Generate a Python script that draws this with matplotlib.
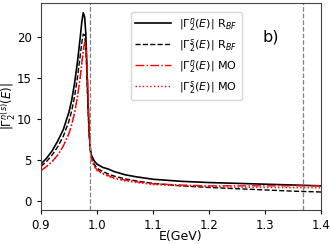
import numpy as np
import matplotlib.pyplot as plt

# energies (GeV)
E = [0.90, 0.91, 0.92, 0.93, 0.94, 0.95, 0.955, 0.96, 0.965, 0.97, 0.973, 0.9755,
     0.978, 0.98, 0.982, 0.984, 0.986, 0.988, 0.990, 0.995, 1.00, 1.01, 1.02, 1.03,
     1.05, 1.07, 1.10, 1.15, 1.20, 1.25, 1.30, 1.35, 1.40]

gn_rbf = [4.5, 5.2, 6.1, 7.3, 8.7, 10.8, 12.3, 14.3, 16.8, 19.8, 21.8, 22.9,
          22.4, 20.5, 16.5, 12.0, 8.5, 6.5, 5.6, 4.9, 4.5, 4.1, 3.9, 3.6,
          3.2, 2.95, 2.65, 2.4, 2.25, 2.15, 2.05, 1.95, 1.85]
gs_rbf = [4.2, 4.8, 5.6, 6.6, 7.9, 9.7, 11.0, 12.7, 14.9, 17.6, 19.3, 20.3,
          20.2, 18.8, 15.5, 11.5, 8.2, 6.2, 5.3, 4.5, 4.0, 3.6, 3.3, 3.05,
          2.7, 2.45, 2.15, 1.85, 1.65, 1.5, 1.35, 1.2, 1.1]
gn_mo = [3.7, 4.2, 4.8, 5.6, 6.7, 8.2, 9.3, 10.7, 12.6, 15.0, 16.8, 18.3,
         19.3, 19.2, 17.0, 13.0, 9.0, 6.3, 5.2, 4.3, 3.8, 3.4, 3.1, 2.85,
         2.55, 2.35, 2.1, 1.95, 1.85, 1.85, 1.85, 1.85, 1.85]
gs_mo = [3.7, 4.2, 4.8, 5.6, 6.7, 8.2, 9.3, 10.7, 12.6, 15.0, 16.7, 18.1,
         19.0, 18.9, 16.8, 12.8, 8.9, 6.2, 5.1, 4.2, 3.7, 3.3, 3.0, 2.75,
         2.45, 2.25, 2.0, 1.85, 1.75, 1.7, 1.65, 1.62, 1.6]

thresholds = [0.9875, 1.367]

fig = plt.figure(figsize=(3.3, 2.44), dpi=100)
ax = fig.add_axes([0.124, 0.139, 0.849, 0.849])

ax.plot(E, gn_rbf, 'k-', lw=1.2, label=r'$|\Gamma_2^n(E)|$ R$_{BF}$')
ax.plot(E, gs_rbf, 'k--', lw=1.0, label=r'$|\Gamma_2^s(E)|$ R$_{BF}$')
ax.plot(E, gn_mo, 'r-.', lw=1.0, label=r'$|\Gamma_2^n(E)|$ MO')
ax.plot(E, gs_mo, 'r:', lw=1.0, label=r'$|\Gamma_2^s(E)|$ MO')
for t in thresholds:
	ax.axvline(t, color='gray', ls='--', lw=0.9)

ax.set_xlim(0.9, 1.4)
ax.set_ylim(-1.1, 24.1)
ax.set_xticks([0.9, 1.0, 1.1, 1.2, 1.3, 1.4])
ax.set_yticks([0, 5, 10, 15, 20])
ax.tick_params(labelsize=8.5, length=3)
for s in ax.spines.values():
	s.set_color('#444444')
ax.set_xlabel('E(GeV)', fontsize=9)
ax.xaxis.set_label_coords(0.5, -0.095)
ax.set_ylabel(r'$|\Gamma_2^{n(s)}(E)|$', fontsize=8.5)
ax.yaxis.set_label_coords(-0.081, 0.5)
ax.text(1.295, 19.4, 'b)', fontsize=11.5)
ax.legend(loc='upper left', bbox_to_anchor=(0.3, 0.985), fontsize=8,
          handlelength=3.2, labelspacing=0.35, borderpad=0.4)

fig.savefig('out.png', dpi=100)
